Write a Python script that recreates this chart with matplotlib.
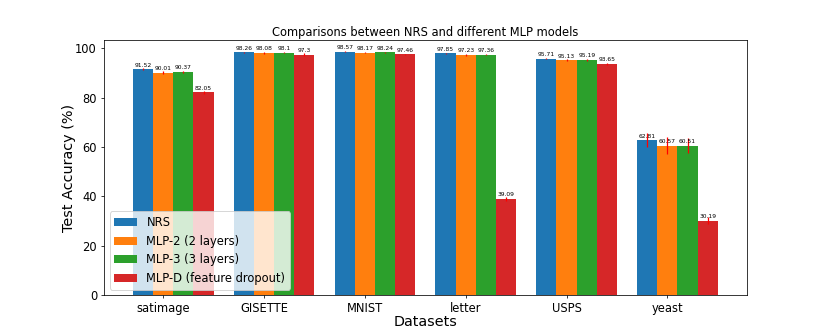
import matplotlib
matplotlib.use("Agg")
import matplotlib.pyplot as plt
import numpy as np

datasets = ["satimage", "GISETTE", "MNIST", "letter", "USPS", "yeast"]
series_names = ["NRS", "MLP-2 (2 layers)", "MLP-3 (3 layers)", "MLP-D (feature dropout)"]
nrs = [91.52, 98.26, 98.57, 97.85, 95.71, 62.81]
mlp2 = [90.01, 98.08, 98.17, 97.23, 95.13, 60.57]
mlp3 = [90.37, 98.1, 98.24, 97.36, 95.19, 60.51]
mlpd = [82.05, 97.3, 97.46, 39.09, 93.65, 30.19]
nrs_err = [0.5, 0.3, 0.2, 0.3, 0.3, 2.8]
mlp2_err = [0.6, 0.3, 0.2, 0.4, 0.5, 3.4]
mlp3_err = [0.5, 0.3, 0.2, 0.3, 0.4, 3.0]
mlpd_err = [0.6, 0.5, 0.3, 0.8, 0.4, 1.4]

values = [nrs, mlp2, mlp3, mlpd]
errors = [nrs_err, mlp2_err, mlp3_err, mlpd_err]
colors = ["#1f77b4", "#ff7f0e", "#2ca02c", "#d62728"]

DPI = 830 / 12.0
fig, ax = plt.subplots(figsize=(12, 4.8), dpi=DPI)
x = np.arange(len(datasets))
width = 0.2
for i, (vals, errs, name, c) in enumerate(zip(values, errors, series_names, colors)):
    pos = x + (i - 1) * width
    bars = ax.bar(pos, vals, width, yerr=errs, color=c, label=name,
                  error_kw=dict(ecolor="red", elinewidth=1.3, capsize=0))
    for b, v in zip(bars, vals):
        ax.text(b.get_x() + b.get_width() / 2, v + 0.6, f"{v:g}",
                ha="center", va="bottom", fontsize=6.3)

ax.set_xticks(x)
ax.set_xticklabels(datasets, fontsize=12)
ax.tick_params(axis="y", labelsize=12)
ax.set_ylim(0, 103.3)
ax.set_xlabel("Datasets", fontsize=15, labelpad=0)
ax.set_ylabel("Test Accuracy (%)", fontsize=15, labelpad=-1)
ax.set_title("Comparisons between NRS and different MLP models", fontsize=12, pad=4)
ax.legend(loc="lower left", fontsize=12)
fig.savefig("out.png", dpi=DPI)
